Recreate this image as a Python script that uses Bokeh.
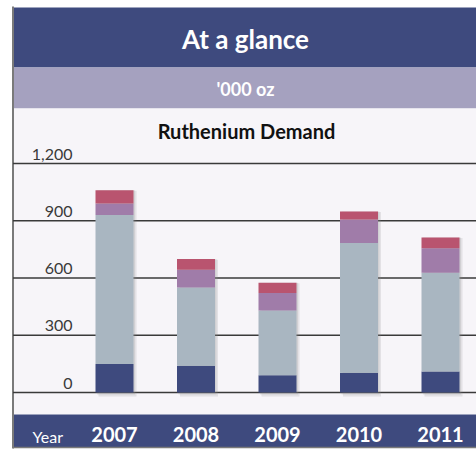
from bokeh.plotting import figure
from bokeh.models import Range1d, ColumnDataSource
from bokeh.core.properties import value
from bokeh.embed import file_html
from bokeh.resources import INLINE

# ---- data ('000 oz) ----
years = ["2007", "2008", "2009", "2010", "2011"]
chemical = [150, 140, 90, 103, 110]
electrical = [780, 410, 340, 681, 518]
electrochemical = [60, 93, 92, 123, 128]
other = [70, 56, 53, 42, 56]
y_ticks = [0, 300, 600, 900, 1200]
y_tick_labels = ["0", "300", "600", "900", "1,200"]

series = ["chemical", "electrical", "electrochemical", "other"]
colors = ["#3e4a7e", "#a9b6c1", "#a07ca9", "#b9546f"]

# ---- layout ----
W, H = 476, 450
Y0_PX = 392.0
PPU = 229.0 / 1200.0
X0_PX = 114.0
PPB = 81.5


def fy(py):
    return (Y0_PX - py) / PPU


def fx(px):
    return (px - X0_PX) / PPB


p = figure(width=W, height=H, output_backend="svg", toolbar_location=None,
           x_range=Range1d(fx(0), fx(W)), y_range=Range1d(fy(H), fy(0)),
           min_border=0, outline_line_color=None)
p.axis.visible = False
p.grid.visible = False
p.background_fill_color = "white"
p.border_fill_color = "white"

FONT = "Lato"
NAVY = "#3e4a7e"
L = 12.5

# bands
p.quad(left=fx(L), right=fx(W + 2), top=fy(7), bottom=fy(67), fill_color=NAVY, line_color=None)
p.quad(left=fx(L), right=fx(W + 2), top=fy(67), bottom=fy(108), fill_color="#a5a1bf", line_color=None)
p.quad(left=fx(L), right=fx(W + 2), top=fy(108), bottom=fy(414), fill_color="#f7f5f9", line_color=None)
p.quad(left=fx(L), right=fx(W + 2), top=fy(414), bottom=fy(447), fill_color=NAVY, line_color=None)
p.segment(x0=fx(L), x1=fx(W + 2), y0=fy(447), y1=fy(447), line_color="#7a7a7a", line_width=1.5)
p.segment(x0=fx(L), x1=fx(L), y0=fy(6), y1=fy(448), line_color="#7a7a7a", line_width=2)

# gridlines
p.segment(x0=[fx(L)] * len(y_ticks), x1=[fx(W + 2)] * len(y_ticks), y0=y_ticks, y1=y_ticks,
          line_color="#3a3a3a", line_width=1.3)

# tick labels (sit just above each gridline)
p.text(x=[fx(72)] * len(y_ticks), y=y_ticks, text=y_tick_labels, text_align="right",
       text_baseline="bottom", y_offset=-4, text_font=value(FONT), text_font_size="16px",
       text_color="#3a3a3a")

xs = list(range(len(years)))
totals = [a + b + c + d for a, b, c, d in zip(chemical, electrical, electrochemical, other)]

# shadows
BW = 38.0 / PPB
p.vbar(x=[x + 3.0 / PPB for x in xs], width=BW, top=[t - 3 for t in totals], bottom=fy(Y0_PX + 4),
       fill_color="#8a8a8a", fill_alpha=0.18, line_color=None)
p.vbar(x=[x + 1.5 / PPB for x in xs], width=BW, top=totals, bottom=fy(Y0_PX + 2),
       fill_color="#8a8a8a", fill_alpha=0.2, line_color=None)

src = ColumnDataSource(dict(x=xs, chemical=chemical, electrical=electrical,
                            electrochemical=electrochemical, other=other))
p.vbar_stack(series, x="x", width=BW, color=colors, source=src, line_color=None)

# titles
p.text(x=[fx(245)], y=[fy(38)], text=["At a glance"], text_align="center", text_baseline="middle",
       text_font=value(FONT), text_font_size="26px", text_font_style="bold", text_color="white")
p.text(x=[fx(245)], y=[fy(88)], text=["'000 oz"], text_align="center", text_baseline="middle",
       text_font=value(FONT), text_font_size="18px", text_font_style="bold", text_color="white")
p.text(x=[fx(246)], y=[fy(130)], text=["Ruthenium Demand"], text_align="center", text_baseline="middle",
       text_font=value(FONT), text_font_size="20px", text_font_style="bold", text_color="#111111")

# bottom band labels
p.text(x=[fx(32)], y=[fy(436)], text=["Year"], text_align="left", text_baseline="middle",
       text_font=value(FONT), text_font_size="16px", text_color="white")
p.text(x=xs, y=[fy(434)] * len(xs), text=years, text_align="center", text_baseline="middle",
       text_font=value(FONT), text_font_size="20px", text_font_style="bold", text_color="white")

open("out.html", "w").write(file_html(p, INLINE))
